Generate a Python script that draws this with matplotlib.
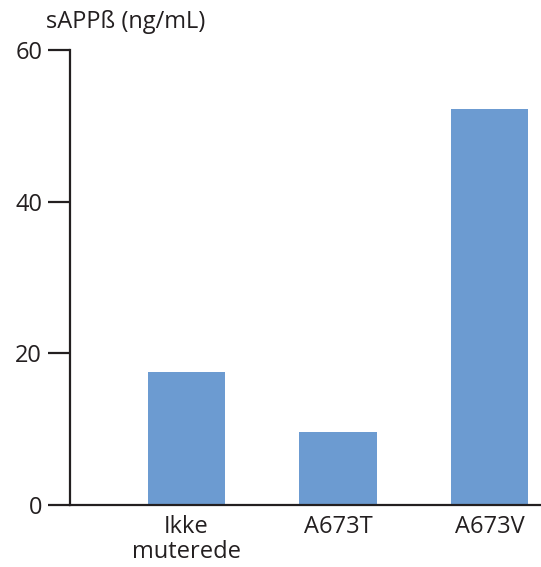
import matplotlib
matplotlib.use("Agg")
import matplotlib.pyplot as plt

categories = ["Ikke\nmuterede", "A673T", "A673V"]
values = [17.6, 9.6, 52.2]
y_ticks = [0, 20, 40, 60]

C_BAR = "#6c9bd1"
C_AX = "#231f20"

plt.rcParams["font.family"] = ["Open Sans", "DejaVu Sans"]

fig = plt.figure(figsize=(5.41, 5.67), dpi=100)
ax = fig.add_axes([70 / 541, 62 / 567, 471 / 541, 455 / 567])

x = list(range(len(categories)))
ax.bar(x, values, width=0.51, color=C_BAR, zorder=2)

ax.set_xlim(-0.77, 2.34)
ax.set_ylim(0, 60)
ax.set_yticks(y_ticks)
ax.set_xticks(x)
ax.set_xticklabels(categories, fontsize=17, color=C_AX, linespacing=1.05)
ax.tick_params(axis="x", length=0, pad=7)
ax.tick_params(axis="y", length=16, width=1.6, color=C_AX, labelsize=17,
               labelcolor=C_AX, pad=4)

for s in ["top", "right"]:
    ax.spines[s].set_visible(False)
for s in ["left", "bottom"]:
    ax.spines[s].set_color(C_AX)
    ax.spines[s].set_linewidth(1.6)

fig.text(46 / 541, 1 - 22 / 567, "sAPPß (ng/mL)", fontsize=17, color=C_AX,
         ha="left", va="center")

fig.savefig("out.png", dpi=100)
